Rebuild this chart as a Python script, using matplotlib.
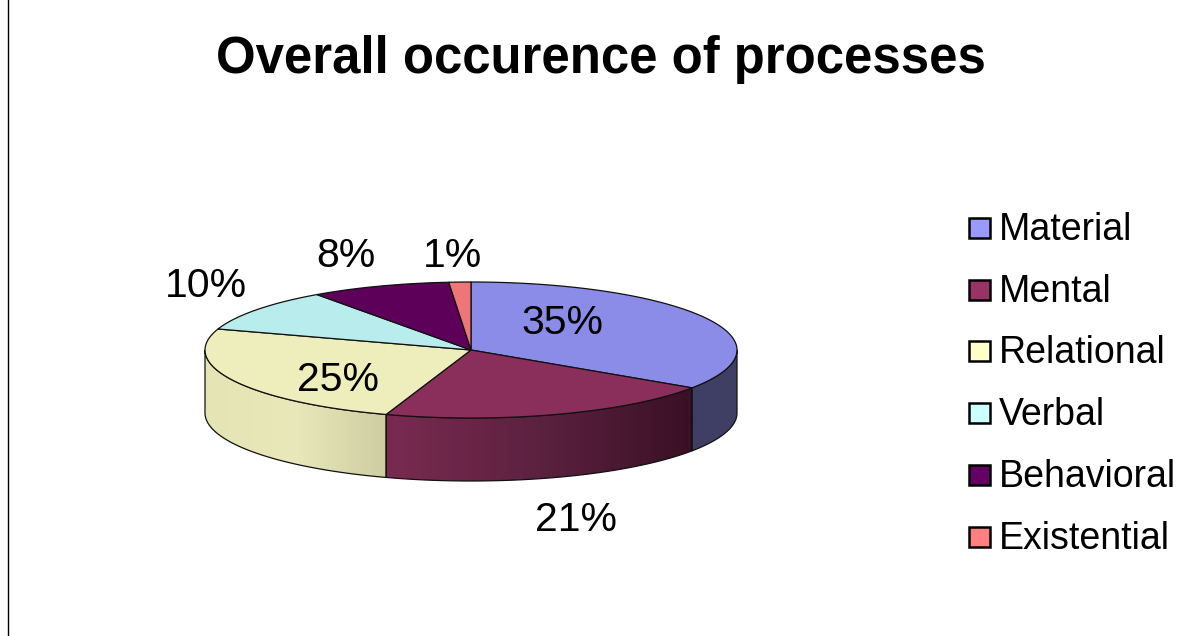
import numpy as np
import matplotlib
matplotlib.use("Agg")
import matplotlib.pyplot as plt
from matplotlib.patches import Polygon, Rectangle
from matplotlib.colors import LinearSegmentedColormap

# datos
procesos = ["Material", "Mental", "Relational", "Verbal", "Behavioral", "Existential"]
valores = [35, 21, 25, 10, 8, 1]
colores_cara = ["#8b8be8", "#8a2f5b", "#eeeebd", "#b9eced", "#5d0059", "#ee7676"]
colores_leyenda = ["#9999ff", "#993366", "#ffffcc", "#ccffff", "#660066", "#ff8080"]

# geometria del pastel, en pixeles
cx, cy = 471, 350
ra, rb = 266, 68
alto = 63

# la perspectiva del original corre un poco los bordes (grados)
ajuste_perspectiva = [0, -2.2, -3.0, -3.6, -3.0, -1.2, 0]

# degradado del lateral: (izquierda, centro, derecha)
degradados = {
    "Material": ["#3f3f66", "#3f3f66", "#3f3f66"],
    "Mental": ["#7a2a50", "#5c2140", "#3a1025"],
    "Relational": ["#e4e4b4", "#e8e8ba", "#cdcda2"],
}

# posicion de las etiquetas de porcentaje
pos_etiquetas = [(562, 323), (576, 520), (338, 380), (206, 286), (346, 256), (453, 256)]

plt.rcParams["font.family"] = ["Liberation Sans", "DejaVu Sans"]

fig = plt.figure(figsize=(11.77, 6.36), dpi=100)
ax = fig.add_axes([0, 0, 1, 1])
ax.set_xlim(0, 1177)
ax.set_ylim(636, 0)
ax.axis("off")


def punto(t, dy=0):
    # t en grados, desde las 12 en sentido horario
    r = np.radians(t)
    return cx + ra * np.sin(r), cy - rb * np.cos(r) + dy


# linea vertical de la izquierda
ax.plot([8, 8], [0, 636], color="black", lw=1)

limites = np.concatenate([[0], np.cumsum(valores)]) * 360 / sum(valores) + np.array(ajuste_perspectiva)

# laterales
for i, nombre in enumerate(procesos):
    ini = max(limites[i], 90)
    fin = min(limites[i + 1], 270)
    if fin <= ini:
        continue
    t = np.linspace(ini, fin, 80)
    xs, ys = punto(t)
    xi, yi = punto(t[::-1], alto)
    verts = np.column_stack([np.r_[xs, xi], np.r_[ys, yi]])
    poli = Polygon(verts, closed=True, facecolor="none", edgecolor="#111111", lw=0.9, zorder=3)
    ax.add_patch(poli)
    cmap = LinearSegmentedColormap.from_list(nombre, degradados[nombre])
    img = ax.imshow(np.linspace(0, 1, 256).reshape(1, -1), cmap=cmap, aspect="auto",
                    extent=[verts[:, 0].min(), verts[:, 0].max(), verts[:, 1].max(), verts[:, 1].min()],
                    zorder=2)
    img.set_clip_path(poli)

ax.set_xlim(0, 1177)
ax.set_ylim(636, 0)

# cara superior
for i in range(len(procesos)):
    t = np.linspace(limites[i], limites[i + 1], 120)
    xs, ys = punto(t)
    verts = np.column_stack([np.r_[cx, xs], np.r_[cy, ys]])
    ax.add_patch(Polygon(verts, closed=True, facecolor=colores_cara[i], edgecolor="#111111",
                         lw=0.9, zorder=4))

# porcentajes
for v, (x, y) in zip(valores, pos_etiquetas):
    ax.text(x, y, f"{v}%", fontsize=29.5, ha="center", va="center", color="black", zorder=5)

ax.text(601, 60, "Overall occurence of processes", fontsize=36.6, fontweight="bold",
        ha="center", va="center", color="black")

# leyenda
y_ley = [228, 290, 351, 413, 475, 537]
for nombre, col, y in zip(procesos, colores_leyenda, y_ley):
    ax.add_patch(Rectangle((969, y - 10), 21, 20, facecolor=col, edgecolor="black", lw=1.8))
    ax.text(999, y + 2, nombre, fontsize=27, ha="left", va="center", color="black")

fig.savefig("out.png", dpi=100)
